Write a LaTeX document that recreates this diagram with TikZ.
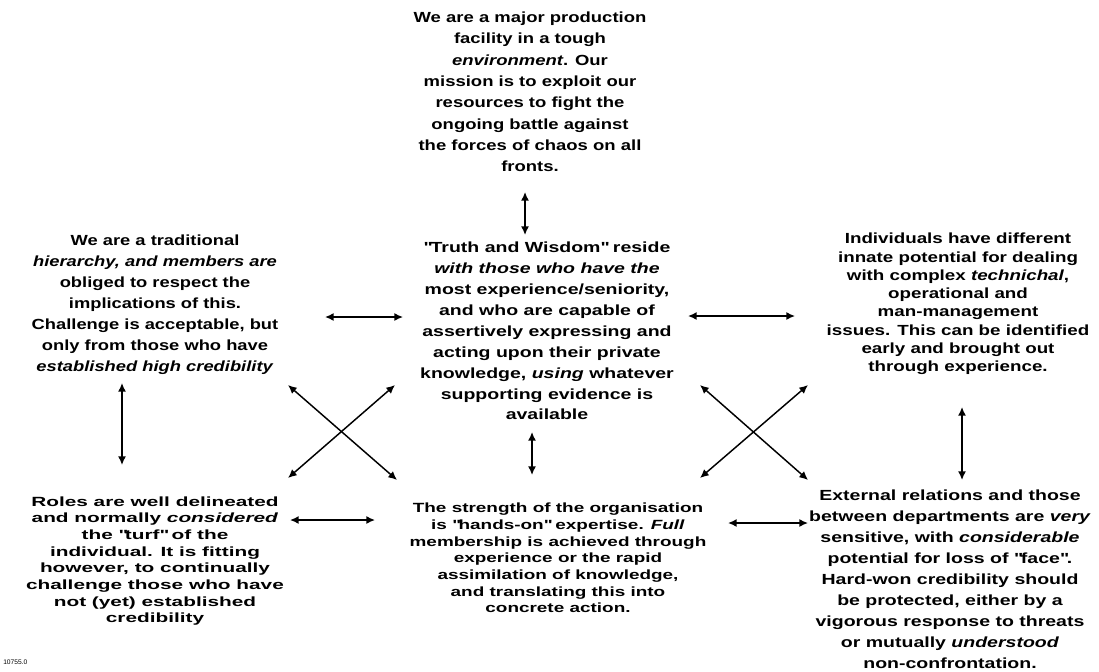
\documentclass[tikz,border=0pt]{standalone}
\usepackage{fontspec}
\setmainfont{Liberation Sans}
\usetikzlibrary{arrows.meta}
\tikzset{
  blk/.style={align=center, inner sep=0pt, text=black},
  dbl/.style={{Latex[length=6.5pt,width=6pt]}-{Latex[length=6.5pt,width=6pt]}, line width=1.1pt},
}
% body font: size, line spacing, horizontal stretch
\newcommand{\blkfont}[3]{\fontsize{#1}{#2}\selectfont\addfontfeatures{FakeStretch=#3}\bfseries}
\newcommand{\q}{\textquotedbl}
\begin{document}
\begin{tikzpicture}[x=0.75pt, y=-0.75pt]
\useasboundingbox (0,0) rectangle (1099,671);

% statements
\node[blk, font=\blkfont{11}{16}{1.26}] (top) at (530,92)
  {We are a major production\\ facility in a tough\\ \textit{environment}. Our\\ mission is to exploit our\\ resources to fight the\\ ongoing battle against\\ the forces of chaos on all\\ fronts.};

\node[blk, font=\blkfont{11}{15.7}{1.33}] (mid) at (547,331)
  {\q Truth and Wisdom\q{} reside\\ \textit{with those who have the}\\ most experience/seniority,\\ and who are capable of\\ assertively expressing and\\ acting upon their private\\ knowledge, \textit{using} whatever\\ supporting evidence is\\ available};

\node[blk, font=\blkfont{11}{15.75}{1.25}] (left) at (155,305)
  {We are a traditional\\ \textit{hierarchy, and members are}\\ obliged to respect the\\ implications of this.\\ Challenge is acceptable, but\\ only from those who have\\ \textit{established high credibility}};

\node[blk, font=\blkfont{11}{13.7}{1.28}] (right) at (958,304)
  {Individuals have different\\ innate potential for dealing\\ with complex \textit{technichal},\\ operational and\\ man-management\\ issues. This can be identified\\ early and brought out\\ through experience.};

\node[blk, font=\blkfont{10}{12.5}{1.56}] (botleft) at (155,561)
  {Roles are well delineated\\ and normally \textit{considered}\\ the \q turf\q{} of the\\ individual. It is fitting\\ however, to continually\\ challenge those who have\\ not (yet) established\\ credibility};

\node[blk, font=\blkfont{10}{12.5}{1.42}] (botmid) at (558,558)
  {The strength of the organisation\\ is \q hands-on\q{} expertise. \textit{Full}\\ membership is achieved through\\ experience or the rapid\\ assimilation of knowledge,\\ and translating this into\\ concrete action.};

\node[blk, font=\blkfont{11}{15.75}{1.33}] (botright) at (950,579)
  {External relations and those\\ between departments are \textit{very}\\ sensitive, with \textit{considerable}\\ potential for loss of \q face\q .\\ Hard-won credibility should\\ be protected, either by a\\ vigorous response to threats\\ or mutually \textit{understood}\\ non-confrontation.};

\node[blk, font=\fontsize{5}{6}\selectfont, anchor=west] (ref) at (3,662) {10755.0};

% arrow end points
\coordinate (t1) at (525,192);  \coordinate (t2) at (525,235);
\coordinate (l1) at (325,317);  \coordinate (l2) at (403,317);
\coordinate (r1) at (688,316);  \coordinate (r2) at (795,316);
\coordinate (lv1) at (122,383); \coordinate (lv2) at (122,465);
\coordinate (mv1) at (532,432); \coordinate (mv2) at (532,475);
\coordinate (rv1) at (962,407); \coordinate (rv2) at (962,480);
\coordinate (bl1) at (290,520); \coordinate (bl2) at (375,520);
\coordinate (br1) at (728,523); \coordinate (br2) at (808,523);
\coordinate (xa1) at (288,385); \coordinate (xa2) at (397,480);
\coordinate (xb1) at (395,385); \coordinate (xb2) at (288,478);
\coordinate (ya1) at (700,385); \coordinate (ya2) at (808,480);
\coordinate (yb1) at (808,385); \coordinate (yb2) at (700,478);

% two-way links
\draw[dbl] (t1) -- (t2);
\draw[dbl] (l1) -- (l2);
\draw[dbl] (r1) -- (r2);
\draw[dbl] (lv1) -- (lv2);
\draw[dbl] (mv1) -- (mv2);
\draw[dbl] (rv1) -- (rv2);
\draw[dbl] (bl1) -- (bl2);
\draw[dbl] (br1) -- (br2);
\draw[dbl] (xa1) -- (xa2);
\draw[dbl] (xb1) -- (xb2);
\draw[dbl] (ya1) -- (ya2);
\draw[dbl] (yb1) -- (yb2);
\end{tikzpicture}
\end{document}
